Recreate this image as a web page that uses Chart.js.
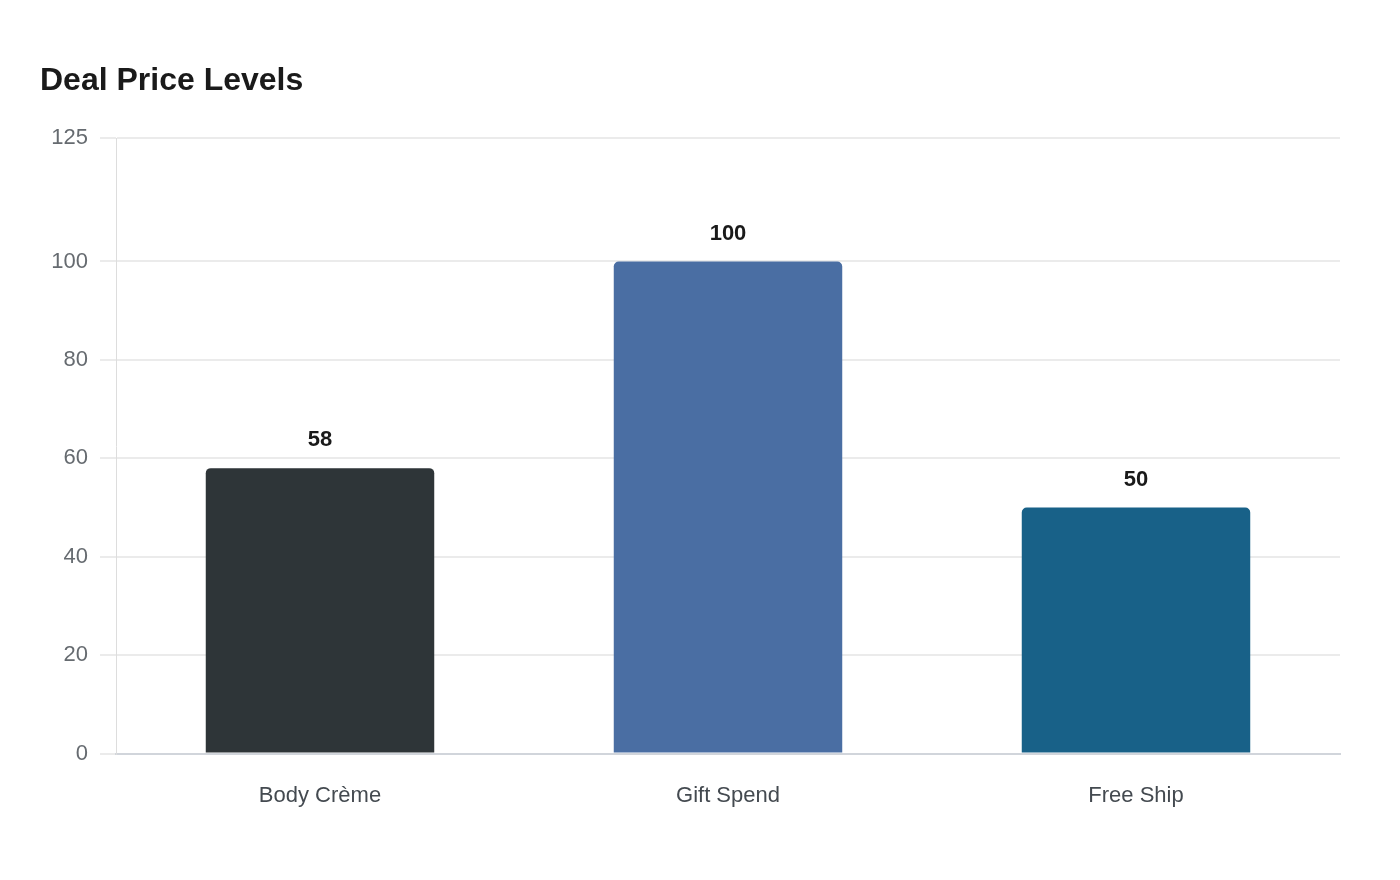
<!DOCTYPE html>
<html>
<head>
<meta charset="utf-8">
<title>Deal Price Levels</title>
<script src="https://cdn.jsdelivr.net/npm/chart.js@4.4.1/dist/chart.umd.min.js"></script>
<style>
  html, body { margin: 0; padding: 0; background: #ffffff; }
  #wrap { width: 1400px; height: 880px; position: relative; }
</style>
</head>
<body>
<div id="wrap"><canvas id="chart"></canvas></div>
<script>
// Chart data
const categories = ['Body Crème', 'Gift Spend', 'Free Ship'];
const prices = [58, 100, 50];
const barColors = ['#2e3538', '#4a6ea3', '#186188'];
const yTicks = [0, 20, 40, 60, 80, 100, 125];

const FONT = '"Liberation Sans", Arial, sans-serif';

// Draw value labels above each bar
const valueLabels = {
  id: 'valueLabels',
  afterDatasetsDraw(chart) {
    const ctx = chart.ctx;
    const meta = chart.getDatasetMeta(0);
    ctx.save();
    ctx.font = 'bold 22px ' + FONT;
    ctx.fillStyle = '#1a1a1a';
    ctx.textAlign = 'center';
    ctx.textBaseline = 'middle';
    meta.data.forEach((bar, i) => {
      ctx.fillText(String(prices[i]), bar.x, bar.y - 28);
    });
    ctx.restore();
  }
};

new Chart(document.getElementById('chart').getContext('2d'), {
  type: 'bar',
  data: {
    labels: categories,
    datasets: [{
      data: prices,
      backgroundColor: barColors,
      borderRadius: { topLeft: 5, topRight: 5 },
      borderSkipped: 'bottom',
      categoryPercentage: 0.8,
      barPercentage: 0.7
    }]
  },
  options: {
    responsive: true,
    maintainAspectRatio: false,
    animation: false,
    layout: { padding: { left: 40, right: 60, top: 0, bottom: 50 } },
    plugins: {
      legend: { display: false },
      tooltip: { enabled: false },
      title: {
        display: true,
        text: 'Deal Price Levels',
        align: 'start',
        color: '#1a1a1a',
        font: { family: FONT, size: 32, weight: 'bold' },
        padding: { top: 62, bottom: 38 }
      }
    },
    scales: {
      x: {
        grid: { display: false },
        border: { display: true, color: '#d1d5db', width: 2 },
        ticks: {
          color: '#444a50',
          padding: 21,
          font: { family: FONT, size: 22 }
        }
      },
      y: {
        min: 0,
        max: 125,
        afterBuildTicks(scale) {
          scale.ticks = yTicks.map(v => ({ value: v }));
        },
        afterFit(scale) {
          scale.width = 76;
        },
        grid: { color: '#ebebeb', lineWidth: 2, tickLength: 16 },
        border: { display: true, color: '#dddddd', width: 1 },
        ticks: {
          color: '#666b70',
          padding: 12,
          font: { family: FONT, size: 22 }
        }
      }
    }
  },
  plugins: [valueLabels]
});
</script>
</body>
</html>
